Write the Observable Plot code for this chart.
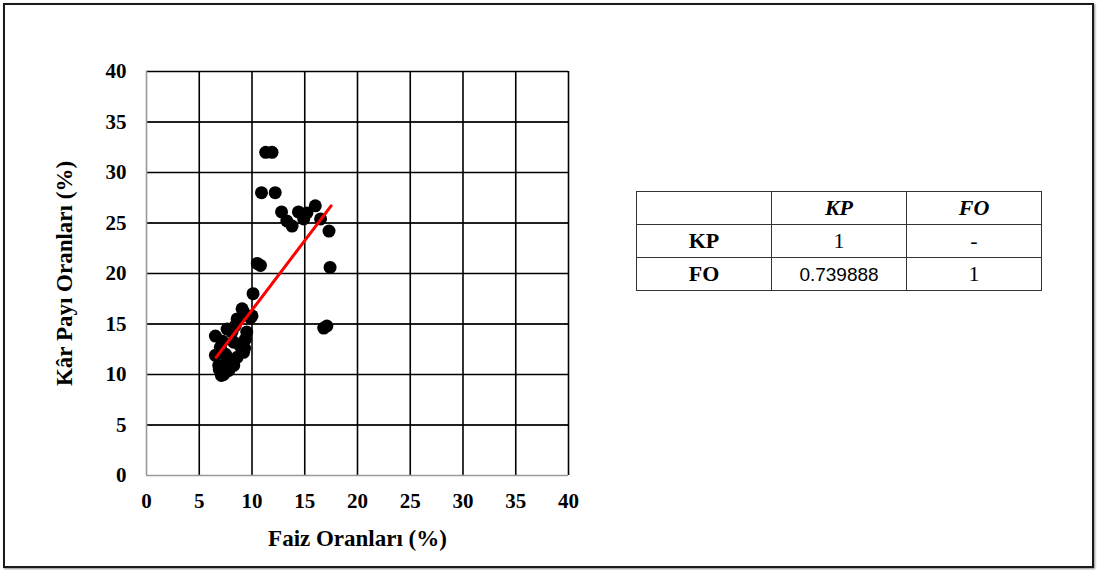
<!DOCTYPE html>
<html>
<head>
<meta charset="utf-8">
<script src="https://cdn.jsdelivr.net/npm/d3@7"></script>
<script src="https://cdn.jsdelivr.net/npm/@observablehq/plot@0.6"></script>
<style>
  html, body { margin: 0; padding: 0; background: #fff; }
  #wrap { position: relative; width: 1097px; height: 570px; overflow: hidden; }
  #wrap svg { display: block; position: absolute; left: 0; top: 0; }
  #frame { position: absolute; left: 3px; top: 3px; width: 1087px; height: 561px; border: 2px solid #1a1a1a; box-shadow: 1px 1px 2px #888; pointer-events: none; }
  #corr { position: absolute; left: 636px; top: 191px; border-collapse: collapse; font-family: "Liberation Serif", "Times New Roman", serif; font-size: 22px; color: #000; }
  #corr td { border: 1px solid #333; width: 134px; height: 32px; padding: 0; text-align: center; vertical-align: middle; line-height: 1; }
  #corr .h { font-weight: bold; font-style: italic; }
  #corr .r { font-weight: bold; }
  #corr .s { font-family: "Liberation Sans", Arial, sans-serif; font-size: 19px; }
</style>
</head>
<body>
<div id="wrap"><div id="frame"></div></div>
<script>
// Faiz Oranları (%) — x, Kâr Payı Oranları (%) — y
const faiz = [
  11.3, 11.9, 10.9, 12.2,
  12.8, 13.3, 13.8, 14.4, 14.9, 15.2, 16.0, 16.5, 17.3,
  10.5, 10.8, 17.4, 10.1, 16.8, 17.1,
  9.06, 8.59, 9.85, 10.0, 9.2,
  6.53, 7.64, 9.38, 8.27, 7.0, 9.2, 6.53, 8.59, 7.64, 6.85, 8.27, 7.32, 7.8,
  8.9, 9.5, 8.1, 7.2, 6.9, 8.4, 9.0, 7.5, 8.0, 9.3, 7.1
];
const karPayi = [
  32.0, 32.0, 28.0, 28.0,
  26.1, 25.2, 24.7, 26.1, 25.4, 26.0, 26.7, 25.4, 24.2,
  21.0, 20.8, 20.6, 18.0, 14.6, 14.8,
  16.5, 15.5, 15.6, 15.8, 16.2,
  13.8, 14.5, 13.5, 13.2, 12.7, 12.2, 11.9, 11.7, 11.4, 10.9, 10.9, 10.0, 10.4,
  12.8, 14.2, 14.2, 13.3, 10.5, 14.8, 13.0, 12.0, 11.2, 12.6, 9.9
];
// Trend line end points
const trendFaiz = [6.6, 17.5];
const trendKar = [11.7, 26.7];

const ticks = [0, 5, 10, 15, 20, 25, 30, 35, 40];
const xLabel = "Faiz Oranları (%)";
const yLabel = "Kâr Payı Oranları (%)";

// Correlation table
const corrCols = ["KP", "FO"];
const corrRows = ["KP", "FO"];
const corrVals = [["1", "-"], ["0.739888", "1"]];

const points = faiz.map((f, i) => ({faiz: f, kar: karPayi[i]}));
const trend = trendFaiz.map((f, i) => ({faiz: f, kar: trendKar[i]}));

const font = "'Liberation Serif', 'Times New Roman', serif";

const chart = Plot.plot({
  width: 1097,
  height: 570,
  marginLeft: 146,
  marginRight: 529,
  marginTop: 71,
  marginBottom: 95,
  style: {fontFamily: font, fontSize: "20px", fontWeight: "bold", color: "#000", background: "transparent"},
  x: {domain: [0, 40], ticks: ticks},
  y: {domain: [0, 40], ticks: ticks},
  marks: [
    Plot.gridX(ticks.slice(1), {stroke: "#000", strokeOpacity: 1, strokeWidth: 1.6}),
    Plot.gridY(ticks.slice(1), {stroke: "#000", strokeOpacity: 1, strokeWidth: 1.6}),
    Plot.tickY(ticks.slice(1), {x1: -0.4, x2: 0, stroke: "#000"}),
    Plot.ruleX([0], {stroke: "#9a9a9a", strokeWidth: 1.6}),
    Plot.ruleY([0], {stroke: "#9a9a9a", strokeWidth: 1.6}),
    Plot.axisX({ticks: ticks, tickSize: 0, tickPadding: 18, fontSize: 21, fontWeight: "bold", label: null}),
    Plot.axisY({ticks: ticks, tickSize: 0, tickPadding: 20, fontSize: 21, fontWeight: "bold", label: null}),
    Plot.dot(points, {x: "faiz", y: "kar", r: 6.5, fill: "#000", stroke: "none"}),
    Plot.line(trend, {x: "faiz", y: "kar", stroke: "#ff0000", strokeWidth: 3}),
    Plot.text([xLabel], {frameAnchor: "bottom", dy: 70, fontSize: 23, fontWeight: "bold", fill: "#000", textAnchor: "middle"}),
    Plot.text([yLabel], {frameAnchor: "left", dx: -82, rotate: -90, fontSize: 23, fontWeight: "bold", fill: "#000", textAnchor: "middle"})
  ]
});
const wrap = document.getElementById("wrap");
wrap.insertBefore(chart, wrap.firstChild);

// Build table
const table = document.createElement("table");
table.id = "corr";
const head = document.createElement("tr");
head.appendChild(document.createElement("td"));
corrCols.forEach(c => { const td = document.createElement("td"); td.className = "h"; td.textContent = c; head.appendChild(td); });
table.appendChild(head);
corrRows.forEach((r, i) => {
  const tr = document.createElement("tr");
  const th = document.createElement("td"); th.className = "r"; th.textContent = r; tr.appendChild(th);
  corrVals[i].forEach(v => {
    const td = document.createElement("td");
    if (v.length > 2) td.className = "s";
    td.textContent = v; tr.appendChild(td);
  });
  table.appendChild(tr);
});
wrap.appendChild(table);
</script>
</body>
</html>
